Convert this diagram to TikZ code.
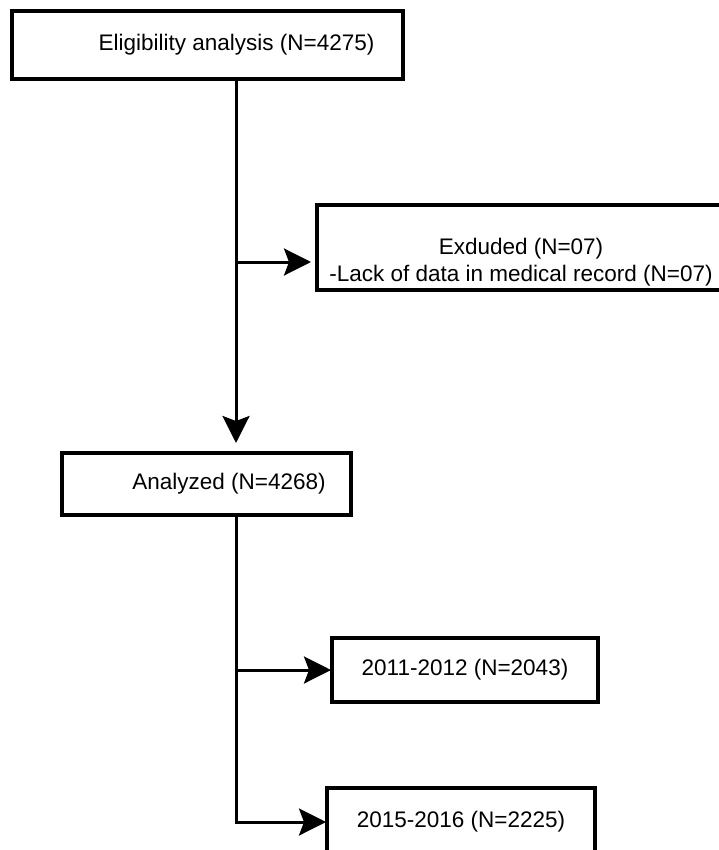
\documentclass[tikz,border=0pt]{standalone}
\usepackage{fontspec}
\setmainfont{Liberation Sans}
\usetikzlibrary{arrows.meta}
\begin{document}
\begin{tikzpicture}[x=1pt,y=-1pt,
  boxst/.style={draw,line width=3.2pt,inner sep=0pt},
  lbl/.style={font=\fontsize{22.5}{27}\selectfont,align=center},
  conn/.style={line width=3pt,-{Stealth[length=27pt,width=27pt,inset=5pt]}},
  plain/.style={line width=3pt}]
\useasboundingbox (0,0) rectangle (719,850);
\draw[boxst] (12,11) rectangle (403,79);
\node[lbl] (elig) at (236.5,45) {Eligibility analysis (N=4275)};
\coordinate (eligB) at (236,79);
\draw[boxst] (317,205) rectangle (722,290);
\node[lbl,align=center] (excl) at (521,262) {Exduded (N=07)\\[0pt]-Lack of data in medical record (N=07)};
\coordinate (exclL) at (311,262);
\coordinate (b1) at (236,262);
\draw[boxst] (62,453) rectangle (351,515);
\node[lbl] (anal) at (229,484) {Analyzed (N=4268)};
\coordinate (analT) at (236,443);
\coordinate (analB) at (236,515);
\coordinate (b2) at (236,670);
\coordinate (b3) at (236,822);
\draw[boxst] (332,638) rectangle (598,702);
\node[lbl] (y1) at (465,670) {2011-2012 (N=2043)};
\coordinate (y1L) at (331,670);
\draw[boxst] (327,788) rectangle (595,862);
\node[lbl] (y2) at (461,822) {2015-2016 (N=2225)};
\coordinate (y2L) at (326,822);
\draw[conn] (eligB) -- (analT);
\draw[conn] (b1) -- (exclL);
\draw[plain] (analB) -- (b3);
\draw[conn] (b2) -- (y1L);
\draw[conn] ([xshift=-1.5pt]b3) -- (y2L);
\end{tikzpicture}
\end{document}
